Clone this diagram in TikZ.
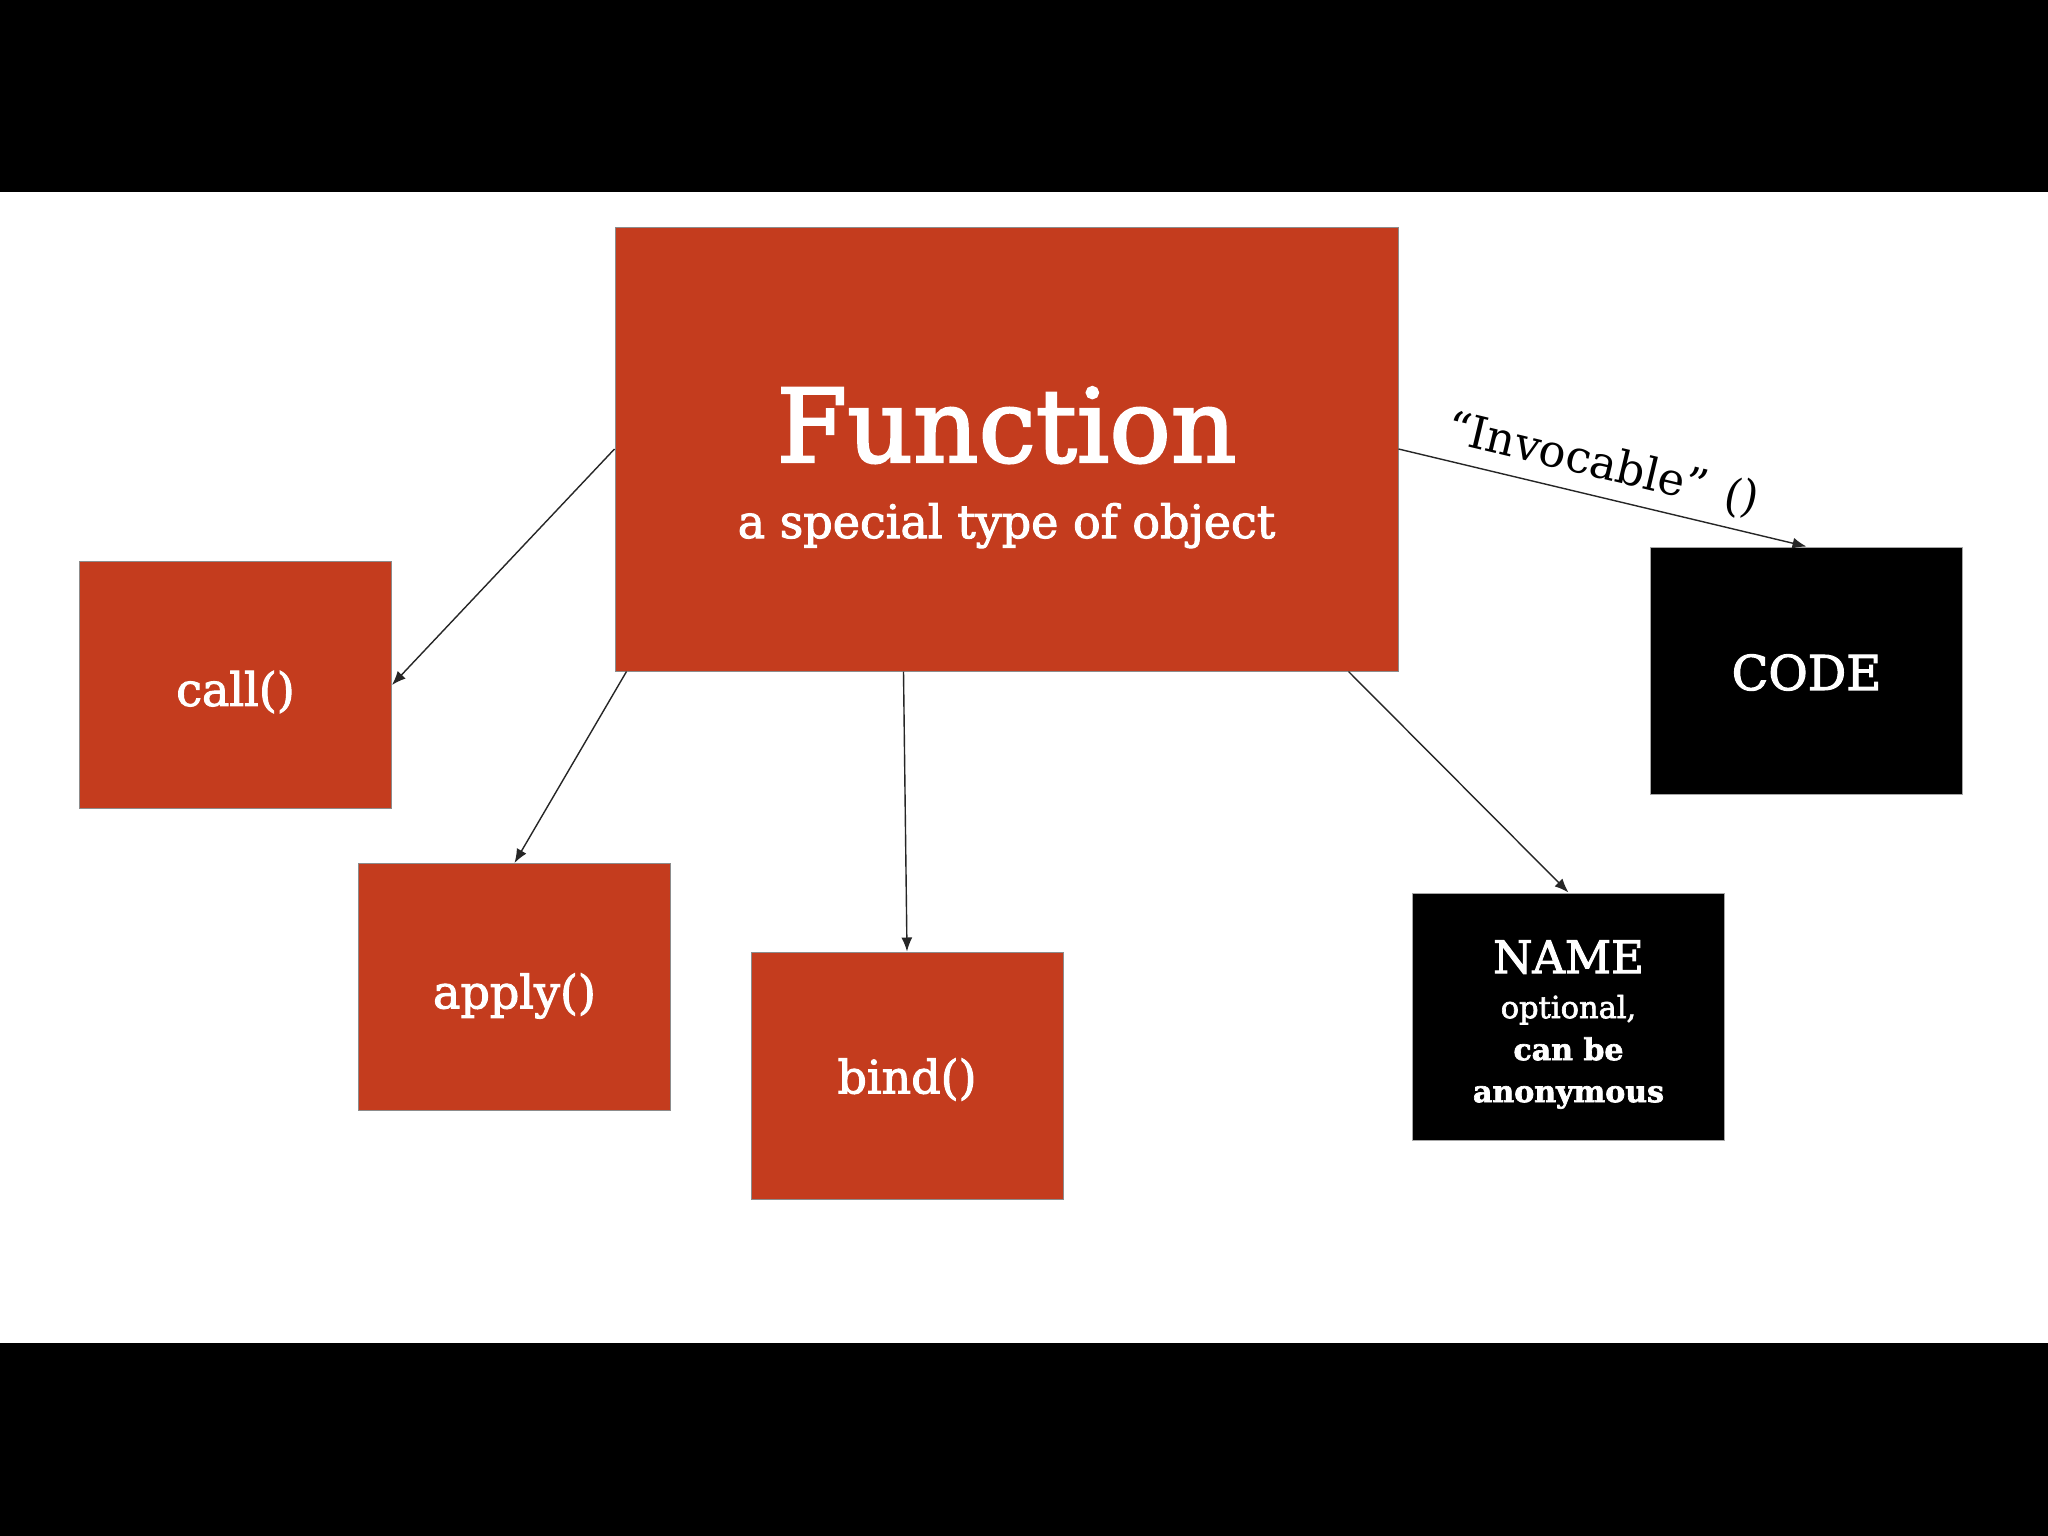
\documentclass[tikz,border=0pt]{standalone}
\usepackage{fontspec}
\setmainfont{DejaVu Serif}
% a slightly heavier cut of the same face for the white captions
\newfontfamily\slab[FakeBold=2.2]{DejaVu Serif}
\usetikzlibrary{arrows.meta}
\definecolor{fnred}{RGB}{196,60,30}
% lower a caption inside its box without changing the box's own size
\newcommand\lowered[2]{\raisebox{-#1}[\height][\depth]{#2}}
\begin{document}
\begin{tikzpicture}[x=1pt,y=-1pt,
  box/.style={rectangle, minimum width=312pt, minimum height=247pt,
    inner sep=0pt, text=white, line width=1pt, align=center},
  redbox/.style={box, fill=fnred, draw=black!45},
  blackbox/.style={box, fill=black, draw=black!35},
  label/.style={text=white, inner sep=0pt},
  link/.style={-{Latex[length=14pt,width=11pt]}, line width=1.4pt, draw=black!85},
]
% page and the black bands above and below
\useasboundingbox (0,0) rectangle (2048,1536);
\fill[white] (0,0) rectangle (2048,1536);
\fill[black] (0,0) rectangle (2048,192);
\fill[black] (0,1343) rectangle (2048,1536);

% central box
\node[redbox, minimum width=783pt, minimum height=444pt] (func) at (1006.5,449) {};
\node[label, anchor=base, font=\slab\fontsize{102}{110}\selectfont] (functitle) at (1006.5,462) {Function};
\node[label, anchor=base, font=\slab\fontsize{46}{52}\selectfont] (funcsub) at (1006.5,538) {a special type of object};

% methods
\node[redbox, font=\slab\fontsize{46}{52}\selectfont] (call) at (235.5,685) {\lowered{7pt}{call()}};
\node[redbox, font=\slab\fontsize{46}{52}\selectfont] (apply) at (514.5,987) {\lowered{9pt}{apply()}};
\node[redbox, font=\slab\fontsize{46}{52}\selectfont] (bind) at (907,1075.5) {\lowered{4pt}{bind()}};

% name and code
\node[blackbox, font=\slab\fontsize{30.5}{42}\selectfont] (name) at (1568.5,1016.5)
  {\lowered{11pt}{\begin{tabular}{@{}c@{}}{\fontsize{45}{45}\selectfont NAME}\\[3pt]
   optional,\\ {\bfseries\fontsize{30}{42}\selectfont can be}\\ {\bfseries\fontsize{30}{42}\selectfont anonymous}\end{tabular}}};
\node[blackbox, font=\slab\fontsize{48}{52}\selectfont] (code) at (1806.5,670.5) {\lowered{2pt}{CODE}};

% connectors
\draw[link] (func.west) -- (call.east);
\draw[link] ([xshift=12pt]func.south west) -- (apply.north);
\draw[link] ([xshift=-103pt]func.south) -- (bind.north);
\draw[link] ([xshift=-50pt]func.south east) -- (name.north);
\draw[link] (func.east) -- (code.north)
  node[pos=0.42, sloped, above=17pt, inner sep=0pt, font=\fontsize{45}{48}\selectfont] (invlabel) {“Invocable”}
  node[pos=0.84, above=12pt, inner sep=0pt, font=\itshape\fontsize{44}{48}\selectfont] (parens) {()};
\end{tikzpicture}
\end{document}
